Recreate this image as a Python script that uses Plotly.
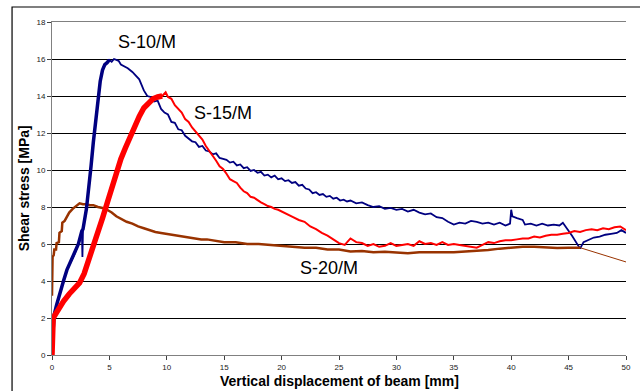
import plotly.graph_objects as go

# ---- data ----
s10_x = [0.05, 0.1, 0.2, 0.4, 0.7, 1.0, 1.3, 1.6, 2.0, 2.3, 2.6, 2.65, 2.7, 3.0, 3.2, 3.4, 3.6, 3.8, 4.0, 4.2,
         4.4, 4.6, 4.8, 5.0, 5.2, 5.4, 5.6, 5.8, 6.0, 6.3, 6.6, 7.0, 7.3, 7.6, 8.0, 8.3, 8.6, 8.9, 9.2, 9.5,
         9.8, 10.1, 10.4, 10.7, 11.0, 11.3, 11.6, 11.9, 12.2, 12.5, 12.8, 13.1, 13.4, 13.7, 14.0, 14.3, 14.6, 14.9, 15.2, 15.5,
         15.8, 16.1, 16.4, 16.7, 17.0, 17.3, 17.6, 17.9, 18.2, 18.5, 18.8, 19.1, 19.4, 19.7, 20.0, 20.3, 20.6, 20.9, 21.2, 21.5,
         21.8, 22.1, 22.4, 22.7, 23.0, 23.3, 23.6, 23.9, 24.2, 24.5, 24.8, 25.1, 25.4, 25.7, 26.0, 26.5, 27.0, 27.5, 28.0, 28.5,
         29.0, 29.5, 30.0, 30.5, 31.0, 31.5, 32.0, 32.5, 33.0, 33.5, 34.0, 34.5, 35.0, 35.5, 36.0, 36.5, 37.0, 37.5, 38.0, 38.5,
         39.0, 39.5, 39.9, 40.0, 40.1, 40.5, 41.0, 41.2, 41.7, 42.2, 42.7, 43.2, 43.7, 44.2, 44.5, 45.3, 46.0, 46.3, 46.7, 47.2,
         47.7, 48.2, 48.7, 49.2, 49.6, 50.0]
s10_y = [1.0, 1.6, 2.2, 2.7, 3.4, 4.0, 4.6, 5.0, 5.5, 6.0, 6.7, 5.3, 6.8, 7.9, 8.9, 10.2, 11.5, 12.7, 13.9, 14.8,
         15.4, 15.7, 15.8, 15.95, 15.85, 16.0, 15.95, 15.9, 15.7, 15.6, 15.5, 15.3, 15.1, 14.9, 14.3, 14.0, 13.95, 13.7, 13.75, 13.3,
         13.1, 13.0, 12.6, 12.55, 12.2, 12.15, 11.85, 11.7, 11.55, 11.5, 11.25, 11.3, 11.05, 11.0, 10.85, 10.9, 10.65, 10.6, 10.55, 10.4,
         10.45, 10.25, 10.3, 10.1, 10.15, 9.95, 10.0, 9.85, 9.9, 9.7, 9.75, 9.6, 9.7, 9.5, 9.55, 9.4, 9.45, 9.3, 9.35, 9.15,
         9.2, 9.0, 8.95, 8.75, 8.8, 8.65, 8.7, 8.55, 8.6, 8.45, 8.5, 8.35, 8.4, 8.3, 8.35, 8.2, 8.25, 8.1, 8.0, 8.05,
         7.9, 7.95, 7.85, 7.9, 7.75, 7.85, 7.7, 7.6, 7.65, 7.45, 7.4, 7.2, 7.05, 7.15, 7.1, 7.25, 7.2, 7.1, 7.15, 7.05,
         7.15, 7.0, 7.1, 7.85, 7.5, 7.4, 7.3, 7.05, 7.1, 7.0, 7.1, 7.0, 7.05, 7.0, 7.15, 6.45, 5.75, 6.1, 6.2, 6.35,
         6.4, 6.5, 6.55, 6.6, 6.75, 6.6]

s15_x = [0.0, 0.05, 0.1, 0.3, 0.6, 1.0, 1.5, 2.0, 2.4, 2.8, 3.0, 3.3, 3.6, 4.0, 4.4, 4.8, 5.2, 5.6, 6.0, 6.4,
         6.8, 7.2, 7.6, 8.0, 8.4, 8.8, 9.2, 9.6, 9.9, 10.1, 10.4, 10.7, 11.0, 11.3, 11.6, 11.9, 12.2, 12.5, 12.8, 13.1,
         13.4, 13.7, 14.0, 14.3, 14.6, 14.9, 15.2, 15.5, 15.8, 16.1, 16.4, 16.7, 17.0, 17.3, 17.6, 17.9, 18.2, 18.5, 18.8, 19.1,
         19.4, 19.7, 20.0, 20.5, 21.0, 21.5, 22.0, 22.5, 23.0, 23.5, 24.0, 24.5, 25.0, 25.5, 26.0, 26.5, 27.0, 27.5, 28.0, 28.5,
         29.0, 29.5, 30.0, 30.5, 31.0, 31.5, 32.0, 32.5, 33.0, 33.5, 34.0, 34.5, 35.0, 35.5, 36.0, 36.5, 37.0, 37.5, 38.0, 38.5,
         39.0, 39.5, 40.0, 40.5, 41.0, 41.5, 42.0, 42.5, 43.0, 43.5, 44.0, 44.5, 45.0, 45.5, 46.0, 46.5, 47.0, 47.5, 48.0, 48.5,
         49.0, 49.5, 50.0]
s15_y = [0.0, 1.0, 2.0, 2.2, 2.55, 2.9, 3.3, 3.6, 3.9, 4.4, 4.75, 5.3, 5.9, 6.6, 7.4, 8.2, 9.0, 9.9, 10.6, 11.2,
         11.8, 12.4, 12.9, 13.35, 13.65, 13.85, 13.95, 14.0, 14.2, 13.95, 13.85, 13.5, 13.3, 13.1, 12.75, 12.6, 12.3, 12.1, 11.85, 11.65,
         11.3, 11.05, 10.75, 10.5, 10.2, 10.05, 9.8, 9.5, 9.4, 9.3, 9.05, 8.85, 8.75, 8.55, 8.5, 8.35, 8.25, 8.15, 8.05, 8.0,
         7.9, 7.85, 7.75, 7.6, 7.45, 7.3, 7.2, 6.95, 6.8, 6.6, 6.45, 6.25, 6.05, 5.95, 6.3, 6.1, 6.05, 5.9, 6.0, 5.85,
         5.9, 6.05, 5.9, 5.95, 6.0, 5.9, 6.15, 6.0, 6.05, 5.95, 6.1, 5.95, 6.0, 5.95, 5.9, 5.85, 5.8, 5.95, 6.1, 6.05,
         6.15, 6.2, 6.2, 6.25, 6.3, 6.3, 6.4, 6.35, 6.45, 6.5, 6.5, 6.55, 6.6, 6.7, 6.65, 6.75, 6.8, 6.75, 6.85, 6.8,
         6.9, 6.95, 6.75]

s20_x = [0.0, 0.02, 0.05, 0.15, 0.2, 0.35, 0.4, 0.6, 0.65, 0.85, 0.9, 1.1, 1.3, 1.5, 1.8, 2.1, 2.4, 2.7, 3.0, 3.3,
         3.6, 4.0, 4.4, 4.8, 5.2, 5.6, 6.0, 6.5, 7.0, 7.5, 8.0, 8.5, 9.0, 9.5, 10.0, 10.5, 11.0, 11.5, 12.0, 12.5,
         13.0, 13.5, 14.0, 14.5, 15.0, 16.0, 17.0, 18.0, 19.0, 20.0, 21.0, 22.0, 23.0, 24.0, 25.0, 26.0, 27.0, 28.0, 29.0, 30.0,
         31.0, 32.0, 33.0, 34.0, 35.0, 36.0, 37.0, 38.0, 39.0, 40.0, 41.0, 42.0, 43.0, 44.0, 45.0, 46.0, 50.0]
s20_y = [3.2, 4.0, 5.3, 5.4, 5.7, 5.7, 6.05, 6.1, 6.6, 6.7, 7.15, 7.25, 7.5, 7.7, 7.9, 8.05, 8.2, 8.15, 8.15, 8.1,
         8.1, 8.0, 7.95, 7.85, 7.7, 7.5, 7.35, 7.2, 7.1, 6.95, 6.85, 6.75, 6.65, 6.6, 6.55, 6.5, 6.45, 6.4, 6.35, 6.3,
         6.25, 6.25, 6.2, 6.15, 6.1, 6.1, 6.0, 6.0, 5.95, 5.9, 5.85, 5.8, 5.8, 5.7, 5.7, 5.6, 5.62, 5.55, 5.58, 5.55,
         5.5, 5.55, 5.55, 5.58, 5.55, 5.6, 5.62, 5.68, 5.75, 5.8, 5.85, 5.85, 5.8, 5.78, 5.8, 5.8, 5.03]

series_labels = ["S-10/M", "S-15/M", "S-20/M"]
x_ticks = [0, 5, 10, 15, 20, 25, 30, 35, 40, 45, 50]
y_ticks = [0, 2, 4, 6, 8, 10, 12, 14, 16, 18]

BLUE = "#000080"
RED = "#FF0000"
BROWN = "#993300"

fig = go.Figure()
# full curves (thin, noisy parts)
fig.add_trace(go.Scatter(x=s10_x, y=s10_y, mode="lines", line=dict(color=BLUE, width=1.8), hoverinfo="skip"))
fig.add_trace(go.Scatter(x=s15_x, y=s15_y, mode="lines", line=dict(color=RED, width=2), hoverinfo="skip"))
fig.add_trace(go.Scatter(x=s20_x[:-1], y=s20_y[:-1], mode="lines", line=dict(color=BROWN, width=2.5), hoverinfo="skip"))
fig.add_trace(go.Scatter(x=s20_x[-2:], y=s20_y[-2:], mode="lines", line=dict(color=BROWN, width=1), hoverinfo="skip"))
# dense (thick) rising parts, the small drop near 2.65 mm stays thin
fig.add_trace(go.Scatter(x=s10_x[:11] + s10_x[12:24], y=s10_y[:11] + s10_y[12:24], mode="lines",
                         line=dict(color=BLUE, width=3.5), hoverinfo="skip"))
fig.add_trace(go.Scatter(x=s15_x[:28], y=s15_y[:28], mode="lines", line=dict(color=RED, width=5.5), hoverinfo="skip"))

fig.update_layout(
    width=640, height=391,
    margin=dict(l=52, r=9, t=22, b=36),
    paper_bgcolor="white", plot_bgcolor="white",
    showlegend=False,
    font=dict(family="Liberation Sans, Arial, sans-serif", color="#000000"),
    xaxis=dict(range=[0, 50], tickvals=x_ticks, ticktext=[str(v) for v in x_ticks],
               showgrid=False, zeroline=False, showline=True, linecolor="#808080", linewidth=1,
               mirror=True, ticks="outside", ticklen=4, tickcolor="#404040",
               tickfont=dict(size=8, color="#222222")),
    yaxis=dict(range=[0, 18], tickvals=y_ticks, ticktext=[str(v) for v in y_ticks],
               showgrid=True, gridcolor="#000000", gridwidth=1, zeroline=False,
               showline=True, linecolor="#808080", linewidth=1,
               ticks="outside", ticklen=4, tickcolor="#404040",
               tickfont=dict(size=8, color="#222222")),
    shapes=[dict(type="rect", xref="paper", yref="paper", x0=-0.0696, x1=1.03, y0=-0.2, y1=1.045,
                 line=dict(color="#000000", width=1.2), fillcolor="rgba(0,0,0,0)", layer="below")],
    annotations=[
        dict(x=8.26, y=16.9, xref="x", yref="y", text=series_labels[0], showarrow=False,
             font=dict(size=18, color="#000000")),
        dict(x=14.9, y=13.1, xref="x", yref="y", text=series_labels[1], showarrow=False,
             font=dict(size=18, color="#000000")),
        dict(x=24.1, y=4.7, xref="x", yref="y", text=series_labels[2], showarrow=False,
             font=dict(size=18, color="#000000")),
        dict(x=0.5, y=-0.078, xref="paper", yref="paper", text="<b>Vertical displacement of beam [mm]</b>",
             showarrow=False, font=dict(size=14, color="#000000"), yanchor="middle"),
        dict(x=-0.049, y=0.5, xref="paper", yref="paper", text="<b>Shear stress [MPa]</b>", textangle=-90,
             showarrow=False, font=dict(size=14, color="#000000"), xanchor="center"),
    ],
)

fig.write_html("out.html", config={"displayModeBar": False},
               post_script="document.body.style.margin='0';document.body.style.overflow='hidden';")
